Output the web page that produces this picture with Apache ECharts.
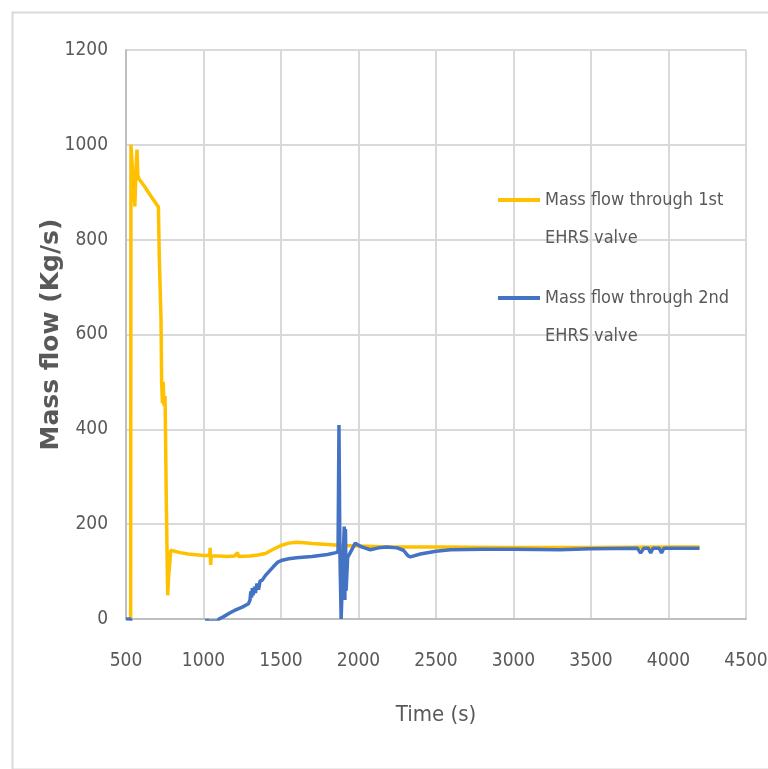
<!DOCTYPE html>
<html>
<head>
<meta charset="utf-8">
<script src="https://cdn.jsdelivr.net/npm/echarts@6/dist/echarts.min.js"></script>
<style>
html,body{margin:0;padding:0;background:#fff;}
#chart{width:768px;height:769px;}
</style>
</head>
<body>
<div id="chart"></div>
<script>
// Data: [time (s), mass flow (kg/s)]
var seriesNames = ['Mass flow through 1st\nEHRS valve', 'Mass flow through 2nd\nEHRS valve'];
var xTicks = [500, 1000, 1500, 2000, 2500, 3000, 3500, 4000, 4500];
var yTicks = [0, 200, 400, 600, 800, 1000, 1200];

var valve1 = [
  [530,0],[532,1000],[545,930],[557,870],[566,960],[571,990],[576,935],[584,928],
  [620,912],[660,892],[709,869],[715,760],[726,630],[730,500],[735,455],[740,500],
  [745,450],[752,470],[760,250],[769,50],[775,90],[789,145],[800,142],[850,140],
  [900,137],[1000,134],[1040,134],[1043,150],[1046,114],[1050,133],[1100,133],
  [1150,132],[1200,133],[1220,140],[1225,132],[1300,133],[1350,135],[1400,138],
  [1450,147],[1500,155],[1550,160],[1600,162],[1650,161],[1700,159],[1800,157],
  [1900,155],[2000,154],[2100,153],[2200,152],[2300,152],[2500,152],[3000,151],
  [3500,151],[4000,152],[4200,152]
];

var valve2 = [
  [500,0],[530,0],[535,-40],[1000,-40],[1020,-5],[1023,0],[1026,-5],[1090,-5],
  [1100,0],[1130,5],[1172,13],[1200,18],[1250,25],[1290,32],[1300,40],[1305,58],
  [1310,45],[1315,65],[1320,50],[1330,68],[1335,55],[1345,75],[1355,62],[1365,80],
  [1379,82],[1400,92],[1450,110],[1480,120],[1508,124],[1550,127],[1600,129],
  [1700,132],[1800,136],[1855,140],[1868,142],[1874,409],[1880,140],[1888,0],
  [1893,0],[1900,120],[1908,195],[1912,40],[1916,190],[1920,60],[1930,130],
  [1947,140],[1979,160],[2020,152],[2076,146],[2130,150],[2183,152],[2249,150],
  [2290,145],[2320,133],[2335,131],[2399,137],[2500,143],[2593,146],[2800,147],
  [3000,147],[3300,146],[3500,148],[3800,149],[3820,139],[3840,149],[3870,149],
  [3885,139],[3900,149],[3940,149],[3955,139],[3970,149],[4200,149]
];

var chart = echarts.init(document.getElementById('chart'));
var narrow = '"Liberation Sans Narrow", "DejaVu Sans Condensed", sans-serif';
var plain = function (v) { return String(v); };
chart.setOption({
  backgroundColor: '#ffffff',
  animation: false,
  graphic: [{
    type: 'rect', left: 10, top: 10, silent: true,
    shape: { width: 770, height: 757 },
    style: { fill: 'none', stroke: '#d9d9d9', lineWidth: 2 }
  }],
  grid: { left: 126, right: 22, top: 50, bottom: 150, outerBoundsMode: 'none', containLabel: false },
  legend: {
    orient: 'vertical',
    left: 498, top: 143,
    padding: 0,
    itemGap: -16,
    itemWidth: 42, itemHeight: 4,
    icon: 'rect',
    formatter: function (name) { return '\n' + name; },
    textStyle: { fontFamily: narrow, fontSize: 18, color: '#595959', lineHeight: 38 },
    data: seriesNames
  },
  xAxis: {
    type: 'value', min: xTicks[0], max: xTicks[xTicks.length-1], interval: 500,
    name: 'Time (s)', nameLocation: 'middle', nameGap: 85, nameMoveOverlap: false,
    nameTextStyle: { fontFamily: narrow, fontSize: 22, color: '#595959' },
    axisLine: { show: true, lineStyle: { color: '#bfbfbf', width: 2 } },
    axisTick: { show: false },
    axisLabel: { margin: 33, fontFamily: narrow, fontSize: 19, color: '#595959', formatter: plain },
    splitLine: { show: true, lineStyle: { color: '#d9d9d9', width: 2 } }
  },
  yAxis: {
    type: 'value', min: yTicks[0], max: yTicks[yTicks.length-1], interval: 200,
    name: 'Mass flow (Kg/s)', nameLocation: 'middle', nameGap: 62, nameRotate: 90, nameMoveOverlap: false,
    nameTextStyle: { fontFamily: '"DejaVu Sans", sans-serif', fontWeight: 'bold', fontSize: 25, color: '#595959' },
    axisLine: { show: true, lineStyle: { color: '#bfbfbf', width: 2 } },
    axisTick: { show: false },
    axisLabel: { margin: 18, fontFamily: narrow, fontSize: 19, color: '#595959', formatter: plain },
    splitLine: { show: true, lineStyle: { color: '#d9d9d9', width: 2 } }
  },
  series: [
    { name: seriesNames[0], type: 'line', data: valve1, showSymbol: false, clip: true,
      lineStyle: { color: '#FFC000', width: 3.5 }, itemStyle: { color: '#FFC000' } },
    { name: seriesNames[1], type: 'line', data: valve2, showSymbol: false, clip: true,
      lineStyle: { color: '#4472C4', width: 3.5 }, itemStyle: { color: '#4472C4' } }
  ]
});
</script>
</body>
</html>
